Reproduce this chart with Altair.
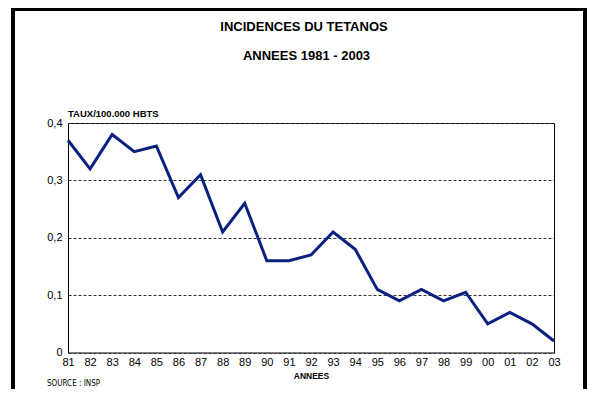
import altair as alt
import pandas as pd

years = ["81", "82", "83", "84", "85", "86", "87", "88", "89", "90", "91", "92",
         "93", "94", "95", "96", "97", "98", "99", "00", "01", "02", "03"]
rates = [0.37, 0.32, 0.38, 0.35, 0.36, 0.27, 0.31, 0.21, 0.26, 0.16, 0.16, 0.17,
         0.21, 0.18, 0.11, 0.09, 0.11, 0.09, 0.105, 0.05, 0.07, 0.05, 0.02]

title1 = "INCIDENCES DU TETANOS"
title2 = "ANNEES 1981 - 2003"
ytitle = "TAUX/100.000 HBTS"
xtitle = "ANNEES"
source = "SOURCE : INSP"

df = pd.DataFrame({"year": years, "rate": rates})
FONT = "Liberation Sans"

W, H = 486, 229.5

line = alt.Chart(df).mark_line(color="#0b2180", strokeWidth=3, strokeJoin="miter").encode(
    x=alt.X("year:O", sort=years,
            scale=alt.Scale(type="point", padding=0),
            axis=alt.Axis(title=xtitle, labelAngle=0, ticks=False, domain=False,
                          labelPadding=4, labelFontSize=11, labelColor="#000",
                          labelFont=FONT, titleFont=FONT, titleFontSize=8.5,
                          titleFontWeight="bold", titlePadding=4, titleColor="#000")),
    y=alt.Y("rate:Q", scale=alt.Scale(domain=[0, 0.4], nice=False),
            axis=alt.Axis(title=None, values=[0, 0.1, 0.2, 0.3, 0.4], ticks=False,
                          domain=False, labelPadding=6, labelFontSize=11,
                          labelColor="#000", labelFont=FONT,
                          labelExpr="replace(format(datum.value, '.1~f'), '.', ',')",
                          grid=True, gridColor="#333", gridDash=[3, 2],
                          gridWidth=1, gridOpacity=1)),
)

frame = alt.Chart(df).mark_rect(fill=None, stroke="#000", strokeWidth=2.5).encode(
    x=alt.value(-55), x2=alt.value(517), y=alt.value(-114), y2=alt.value(320)
)

def txt(s, x, y, size, weight="bold", align="center", font=FONT):
    return alt.Chart(pd.DataFrame({"t": [s]})).mark_text(
        font=font, fontSize=size, fontWeight=weight, align=align,
        baseline="alphabetic", color="#000"
    ).encode(text="t:N", x=alt.value(x), y=alt.value(y))

chart = alt.layer(
    frame,
    line,
    txt(title1, 236, -92.5, 13),
    txt(title2, 238.5, -63.5, 13),
    txt(ytitle, 0, -6, 9.5, align="left"),
    txt(source, -21, 262.5, 8, weight="normal", align="left",
        font="'DejaVu Sans Condensed', 'Liberation Sans Narrow', sans-serif"),
).properties(
    width=W, height=H,
    autosize=alt.AutoSizeParams(type="none"),
    padding={"left": 60, "top": 115, "right": 33, "bottom": 36},
).configure_view(stroke="#000", strokeWidth=1)

chart.save("out.html", embed_options={"renderer": "svg", "actions": False})
